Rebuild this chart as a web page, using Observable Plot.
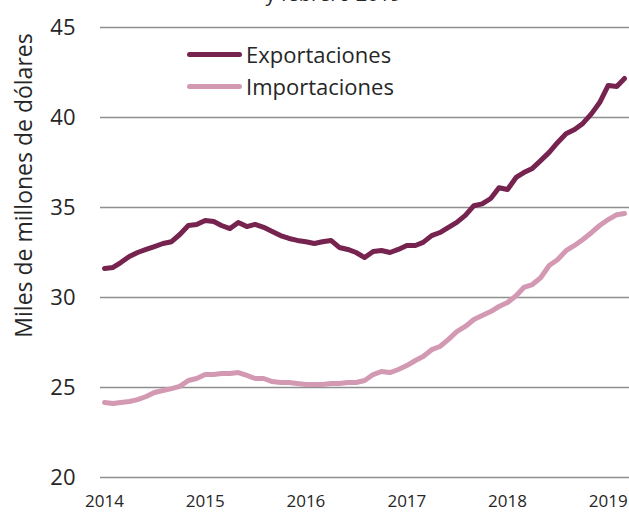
<!DOCTYPE html>
<html><head><meta charset="utf-8">
<script src="https://cdn.jsdelivr.net/npm/d3@7"></script>
<script src="https://cdn.jsdelivr.net/npm/@observablehq/plot@0.6"></script>
<style>
body{margin:0;background:#fff;font-family:"Open Sans",sans-serif;}
#wrap{position:relative;width:629px;height:512px;overflow:hidden;}
#title{position:absolute;top:-16px;left:19px;width:629px;text-align:center;font-size:20px;line-height:20px;color:#262626;}
.leg{position:absolute;left:187px;height:30px;line-height:30px;display:flex;align-items:center;font-size:22px;color:#262626;}
.sw{display:inline-block;width:55px;height:5px;border-radius:3px;margin-right:4px;}
#chart{position:absolute;left:0;top:0;}
</style></head><body>
<div id="wrap"><div id="chart"></div><div id="title">y febrero 2019</div><div id="legend"></div></div>
<script>
const startYear = 2014;
const exportaciones = [31.61,31.67,31.94,32.28,32.5,32.67,32.83,33.0,33.1,33.5,34.0,34.06,
  34.28,34.22,34.0,33.83,34.17,33.94,34.06,33.9,33.67,33.44,33.28,33.17,
  33.1,33.0,33.1,33.17,32.78,32.67,32.5,32.22,32.56,32.61,32.5,32.67,
  32.89,32.89,33.06,33.44,33.61,33.9,34.17,34.56,35.1,35.2,35.5,36.1,
  36.0,36.67,36.94,37.17,37.6,38.06,38.6,39.1,39.33,39.67,40.2,40.83,
  41.78,41.72,42.17];
const importaciones = [24.17,24.11,24.17,24.22,24.33,24.5,24.72,24.83,24.94,25.06,25.39,25.5,
  25.72,25.72,25.78,25.78,25.83,25.67,25.5,25.5,25.33,25.28,25.28,25.22,
  25.17,25.17,25.17,25.22,25.22,25.28,25.28,25.39,25.72,25.89,25.83,26.0,
  26.22,26.5,26.72,27.1,27.28,27.67,28.1,28.39,28.78,29.0,29.22,29.5,
  29.72,30.1,30.56,30.72,31.1,31.78,32.1,32.6,32.89,33.22,33.6,34.0,
  34.33,34.6,34.67];
const yTicks = [20,25,30,35,40,45];
const xTickYears = [2014,2015,2016,2017,2018,2019];
const seriesNames = ["Exportaciones","Importaciones"];
const seriesColors = ["#76234f","#d399b3"];
const yTitle = "Miles de millones de dólares";

const rows = [];
[exportaciones, importaciones].forEach((arr, s) => {
  arr.forEach((v, i) => rows.push({date: new Date(Date.UTC(startYear, i, 1)), value: v, serie: seriesNames[s]}));
});
const n = exportaciones.length;
const xTicks = xTickYears.map(y => new Date(Date.UTC(y, 0, 1)));

const chart = Plot.plot({
  width: 629, height: 512,
  marginLeft: 104, marginRight: 5, marginTop: 27, marginBottom: 35,
  style: {fontFamily: "'Open Sans', sans-serif", color: "#262626", background: "white"},
  x: {type: "utc", domain: [new Date(Date.UTC(startYear, 0, 1)), new Date(Date.UTC(startYear, n - 1, 1))]},
  y: {domain: [20, 45]},
  color: {domain: seriesNames, range: seriesColors},
  marks: [
    Plot.ruleY(yTicks, {stroke: "#8f8f8f", strokeWidth: 1.4, insetLeft: -4, insetRight: -5}),
    Plot.axisY({ticks: yTicks, tickSize: 0, tickPadding: 29, fontSize: 22, label: null}),
    Plot.axisX({ticks: xTicks, tickSize: 0, tickPadding: 17, fontSize: 17, tickFormat: d3.utcFormat("%Y"), label: null}),
    Plot.text([yTitle], {frameAnchor: "left", textAnchor: "middle", lineAnchor: "middle", dx: -80, dy: -67, rotate: -90, fontSize: 23, fill: "#262626"}),
    Plot.line(rows, {x: "date", y: "value", stroke: "serie", z: "serie", strokeWidth: 5, strokeLinejoin: "round", strokeLinecap: "round"})
  ]
});
document.getElementById("chart").appendChild(chart);

const legend = document.getElementById("legend");
seriesNames.forEach((name, i) => {
  const d = document.createElement("div");
  d.className = "leg";
  d.style.top = (39 + i * 32) + "px";
  d.innerHTML = `<span class="sw" style="background:${seriesColors[i]}"></span>${name}`;
  legend.appendChild(d);
});
</script>
</body></html>
